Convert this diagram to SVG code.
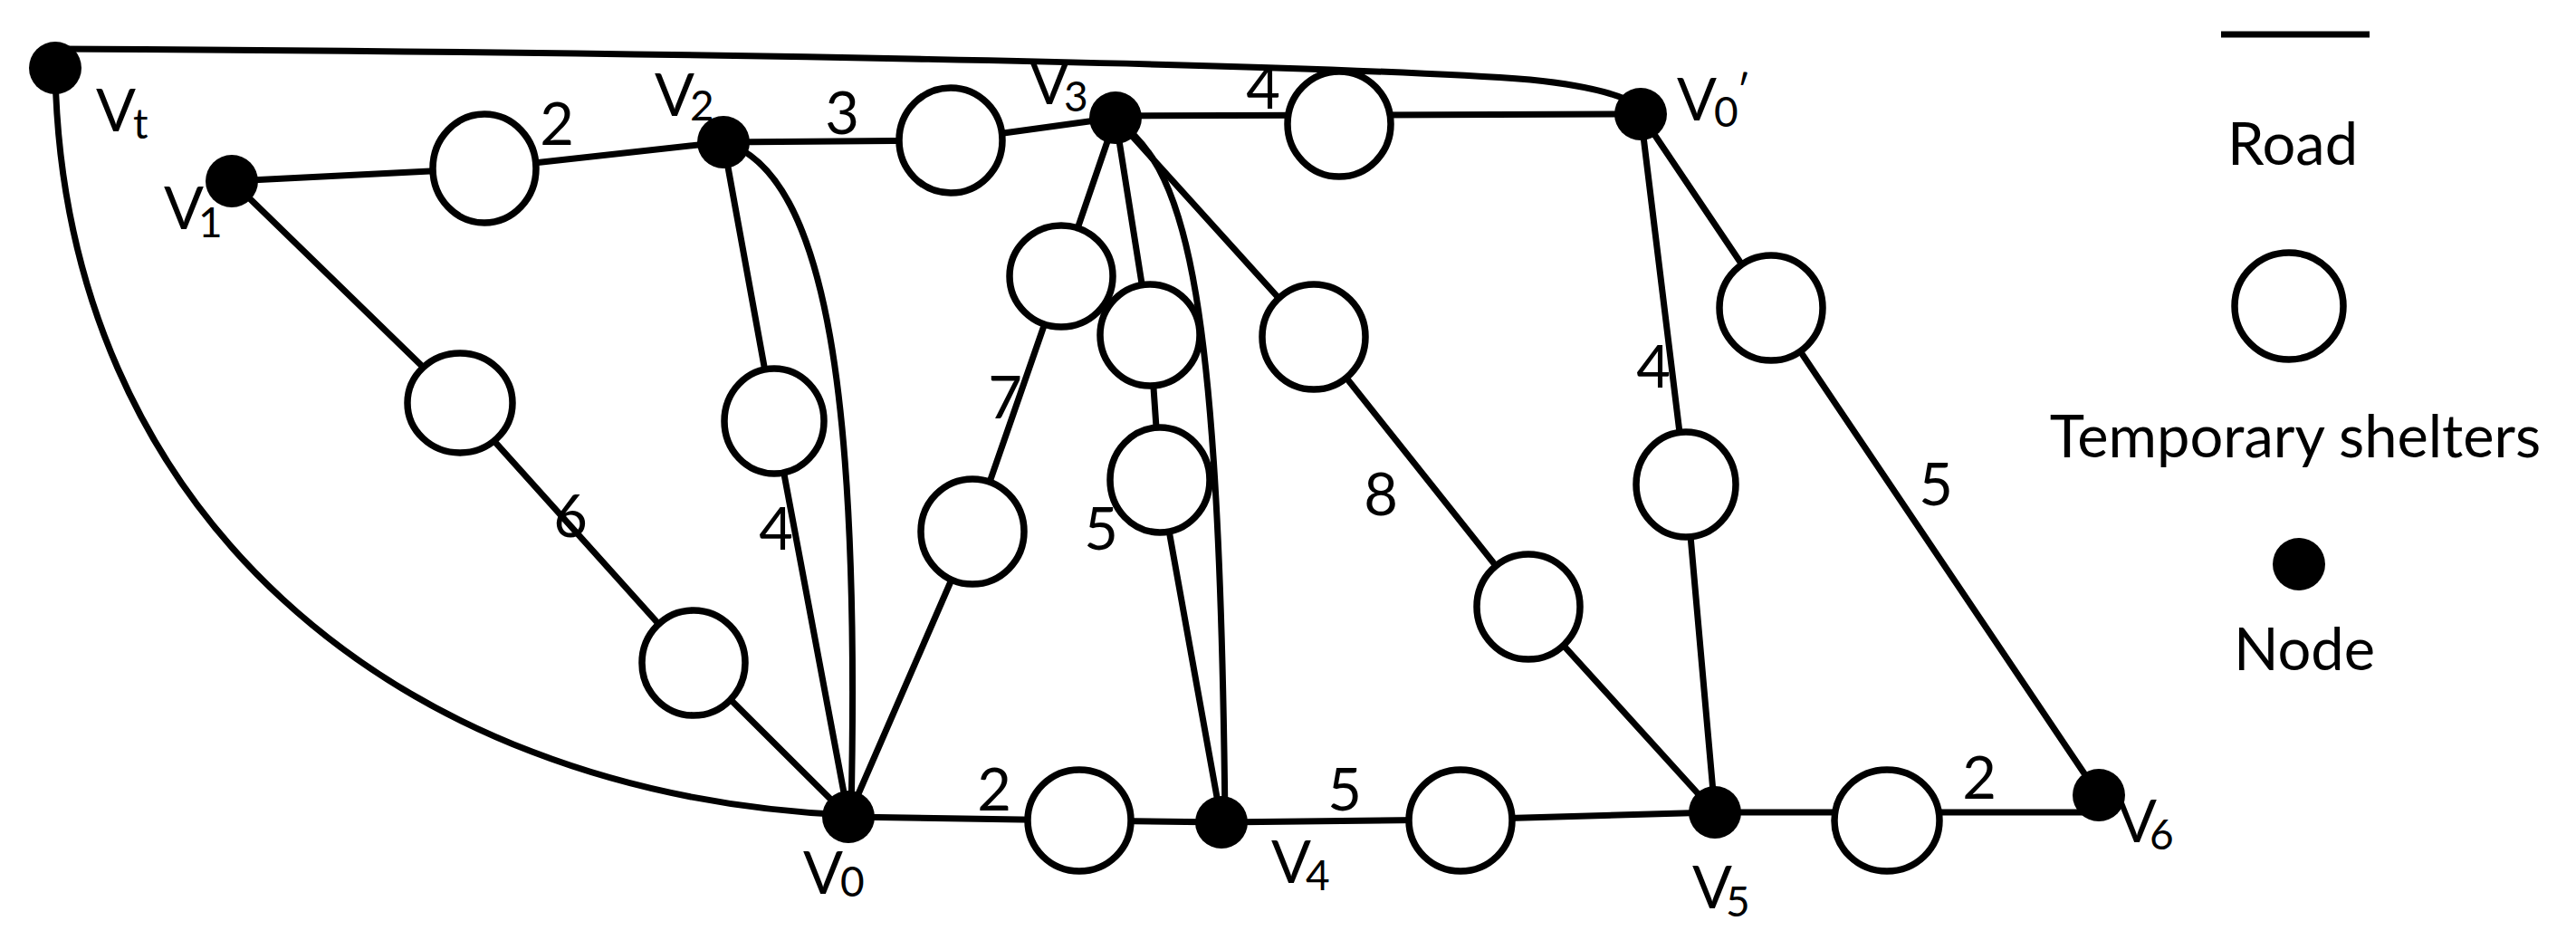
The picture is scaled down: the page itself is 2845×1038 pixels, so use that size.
<svg xmlns="http://www.w3.org/2000/svg" width="2845" height="1038" viewBox="0 0 2845 1038">
<style>
.edge{fill:none;stroke:#000;stroke-width:7;stroke-linejoin:round;stroke-linecap:round}
.shelter{fill:#fff;stroke:#000;stroke-width:7.5}
.node{fill:#000}
.t{font-family:Lato,"Liberation Sans",sans-serif;font-size:65px;fill:#000}
.sub{font-size:46px}
.m{text-anchor:middle}
</style>
<rect width="2845" height="1038" fill="#fff"/>
<g id="connectors">
<path id="e-vt-v0p" class="edge" d="M61 54 C700 57 1450 70 1690 88 Q1780 97 1812 118"/>
<path id="e-vt-v0" class="edge" d="M61 80 C70 560 430 878 937 900"/>
<polyline id="e-v1-v2" class="edge" points="256,200 535,186 799,157"/>
<polyline id="e-v1-v0" class="edge" points="256,200 508,445 766,732 937,902"/>
<polyline id="e-v2-v0-a" class="edge" points="799,157 855,465 937,902"/>
<path id="e-v2-v0-b" class="edge" d="M799 157 C915 190 950 450 940 898"/>
<polyline id="e-v2-v3" class="edge" points="799,157 1050,155 1232,130"/>
<polyline id="e-v3-v0p" class="edge" points="1232,128 1812,126"/>
<polyline id="e-v3-v0" class="edge" points="1232,130 1172,305 1074,587 937,902"/>
<polyline id="e-v3-v4-a" class="edge" points="1232,130 1270,370 1281,530 1349,908"/>
<path id="e-v3-v4-b" class="edge" d="M1236 135 C1312 190 1347 330 1353 905"/>
<polyline id="e-v3-v5" class="edge" points="1232,130 1451,372 1688,670 1894,897"/>
<polyline id="e-v0p-v5" class="edge" points="1812,126 1862,535 1894,897"/>
<polyline id="e-v0p-v6" class="edge" points="1812,126 1956,340 2318,878"/>
<polyline id="e-v0-v4" class="edge" points="937,902 1192,906 1349,908"/>
<polyline id="e-v4-v5" class="edge" points="1349,908 1613,905 1894,897"/>
<polyline id="e-v5-v6" class="edge" points="1894,897 2300,897"/>
</g>
<g id="edge-labels" class="t m">
<text x="615" y="160">2</text>
<text x="930" y="148">3</text>
<text x="1395" y="120">4</text>
<text x="630" y="593">6</text>
<text x="857" y="607">4</text>
<text x="1110" y="462">7</text>
<text x="1216" y="607">5</text>
<text x="1525" y="569">8</text>
<text x="1826" y="428">4</text>
<text x="2138" y="558">5</text>
<text x="1098" y="895">2</text>
<text x="1485" y="895">5</text>
<text x="2186" y="882">2</text>
</g>
<g id="shelter-1"><ellipse class="shelter" cx="535" cy="186" rx="57" ry="60"/></g>
<g id="shelter-2"><ellipse class="shelter" cx="1050" cy="155" rx="57" ry="58"/></g>
<g id="shelter-3"><ellipse class="shelter" cx="1479" cy="137" rx="57" ry="58"/></g>
<g id="shelter-4"><ellipse class="shelter" cx="508" cy="445" rx="58" ry="55"/></g>
<g id="shelter-5"><ellipse class="shelter" cx="766" cy="732" rx="57" ry="58"/></g>
<g id="shelter-6"><ellipse class="shelter" cx="855" cy="465" rx="55" ry="58"/></g>
<g id="shelter-7"><ellipse class="shelter" cx="1172" cy="305" rx="57" ry="56"/></g>
<g id="shelter-8"><ellipse class="shelter" cx="1074" cy="587" rx="57" ry="58"/></g>
<g id="shelter-9"><ellipse class="shelter" cx="1270" cy="370" rx="55" ry="56"/></g>
<g id="shelter-10"><ellipse class="shelter" cx="1281" cy="530" rx="55" ry="58"/></g>
<g id="shelter-11"><ellipse class="shelter" cx="1451" cy="372" rx="57" ry="58"/></g>
<g id="shelter-12"><ellipse class="shelter" cx="1688" cy="670" rx="57" ry="58"/></g>
<g id="shelter-13"><ellipse class="shelter" cx="1862" cy="535" rx="55" ry="58"/></g>
<g id="shelter-14"><ellipse class="shelter" cx="1956" cy="340" rx="57" ry="58"/></g>
<g id="shelter-15"><ellipse class="shelter" cx="1192" cy="906" rx="57" ry="56"/></g>
<g id="shelter-16"><ellipse class="shelter" cx="1613" cy="906" rx="57" ry="56"/></g>
<g id="shelter-17"><ellipse class="shelter" cx="2084" cy="906" rx="58" ry="56"/></g>
<g id="node-Vt"><circle class="node" cx="61" cy="75" r="29"/><text class="t"><tspan x="106" y="145">V</tspan><tspan class="sub" x="147" y="153">t</tspan></text></g>
<g id="node-V1"><circle class="node" cx="256" cy="200" r="29"/><text class="t"><tspan x="181" y="253">V</tspan><tspan class="sub" x="219" y="262">1</tspan></text></g>
<g id="node-V2"><circle class="node" cx="799" cy="157" r="29"/><text class="t"><tspan x="723" y="128">V</tspan><tspan class="sub" x="762" y="133">2</tspan></text></g>
<g id="node-V3"><circle class="node" cx="1232" cy="130" r="29"/><text class="t"><tspan x="1137" y="115">V</tspan><tspan class="sub" x="1175" y="123">3</tspan></text></g>
<g id="node-V0p"><circle class="node" cx="1812" cy="126" r="29"/><text class="t"><tspan x="1852" y="133">V</tspan><tspan class="sub" x="1893" y="140">0</tspan><tspan class="sub" x="1918" y="117">′</tspan></text></g>
<g id="node-V0"><circle class="node" cx="937" cy="902" r="29"/><text class="t"><tspan x="887" y="987">V</tspan><tspan class="sub" x="928" y="990">0</tspan></text></g>
<g id="node-V4"><circle class="node" cx="1349" cy="908" r="29"/><text class="t"><tspan x="1404" y="975">V</tspan><tspan class="sub" x="1442" y="983">4</tspan></text></g>
<g id="node-V5"><circle class="node" cx="1894" cy="897" r="29"/><text class="t"><tspan x="1869" y="1003">V</tspan><tspan class="sub" x="1906" y="1012">5</tspan></text></g>
<g id="node-V6"><circle class="node" cx="2318" cy="878" r="29"/><text class="t"><tspan x="2338" y="930">V</tspan><tspan class="sub" x="2374" y="938">6</tspan></text></g>
<g id="legend">
<g id="legend-road"><line x1="2453" y1="38" x2="2617" y2="38" stroke="#000" stroke-width="7"/><text class="t m" x="2532" y="182">Road</text></g>
<g id="legend-shelter"><ellipse class="shelter" cx="2528" cy="338" rx="60" ry="59"/><text class="t m" x="2535" y="505">Temporary shelters</text></g>
<g id="legend-node"><circle class="node" cx="2539" cy="623" r="29"/><text class="t m" x="2545" y="740">Node</text></g>
</g>
</svg>
